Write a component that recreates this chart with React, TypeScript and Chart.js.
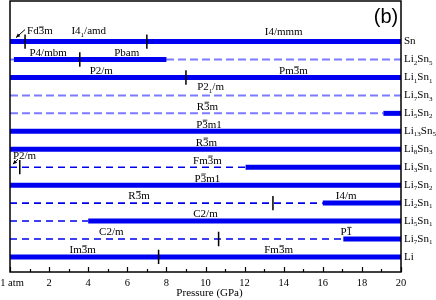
import React, { useEffect, useRef } from "react";
import { Chart, registerables } from "chart.js";
Chart.register(...registerables);

// ---- data ----
const compounds = [
  "Sn", "Li_2Sn_5", "Li_1Sn_1", "Li_7Sn_3", "Li_5Sn_2", "Li_{13}Sn_5", "Li_8Sn_3",
  "Li_3Sn_1", "Li_7Sn_2", "Li_2Sn_1", "Li_5Sn_1", "Li_7Sn_1", "Li",
];
// stable ranges (GPa): [row, from, to]
const stableRanges: [number, number, number][] = [
  [0, 0, 20], [1, 0.2, 8.0], [2, 0, 20], [4, 19.1, 20], [5, 0, 20], [6, 0, 20],
  [7, 12.05, 20], [8, 0, 20], [9, 16, 20], [10, 4, 20], [11, 17.05, 20], [12, 0, 20],
];
// metastable (light dashed) ranges
const metastableLight: [number, number, number][] = [[1, 0, 20], [3, 0, 20], [4, 0, 19.1]];
// metastable (dark dashed) ranges
const metastableDark: [number, number, number][] = [[7, 0, 12.05], [9, 0, 16], [10, 0, 4], [11, 0, 17.05]];
// phase transition pressures: [row, GPa]
const transitions: [number, number][] = [
  [0, 0.77], [0, 7.0], [1, 3.57], [2, 9.0], [7, 0.5], [9, 13.45], [11, 10.67], [12, 7.6],
];
// phase labels: row, pressure, text
const phaseRows = [0, 0, 0, 1, 1, 2, 2, 3, 4, 5, 6, 7, 7, 8, 9, 9, 10, 11, 11, 12, 12];
const phaseX = [0.87, 4.03, 14.0, 1.95, 5.97, 4.67, 14.5, 10.26, 10.1, 10.18, 10.05, 0.15, 10.1, 10.1, 6.6, 17.2, 10.0, 5.18, 17.2, 3.72, 13.74];
const phaseNames = [
  "Fd~3m", "I4_1/amd", "I4/mmm", "P4/mbm", "Pbam", "P2/m", "Pm~3m", "P2_1/m", "R~3m", "P~3m1",
  "R~3m", "P2/m", "Fm~3m", "P~3m1", "R~3m", "I4/m", "C2/m", "C2/m", "P~1", "Im~3m", "Fm~3m",
];
const phaseAlign = ["left", "c", "c", "c", "c", "c", "c", "c", "c", "c", "c", "left", "c", "c", "c", "c", "c", "c", "c", "c", "c"];
const phaseDy = [-10, -10, -9, -6, -6, -6, -6, -8, -6.5, -6.5, -6.5, -11.5, -6.5, -6.5, -7, -7, -7, -6.5, -7, -6.5, -6.5];
// arrows: [row, xFrom, dyFrom, xTo, dyTo]
const arrows: [number, number, number, number, number][] = [
  [0, 0.77, -0.67, 0.31, -0.22],
  [7, 0.41, -0.45, 0.15, -0.17],
];
const majorTicks = [0, 2, 4, 6, 8, 10, 12, 14, 16, 18, 20];
const majorTickLabels = ["1 atm", "2", "4", "6", "8", "10", "12", "14", "16", "18", "20"];
const minorTicks = [1, 3, 5, 7, 9, 11, 13, 15, 17, 19];

const SERIF = "'Liberation Serif', 'Times New Roman', serif";

type Seg = { t: string; sub: boolean; bar: boolean };
function parseRich(s: string): Seg[] {
  const segs: Seg[] = [];
  let i = 0;
  while (i < s.length) {
    const c = s[i];
    if (c === "_") {
      if (s[i + 1] === "{") {
        const j = s.indexOf("}", i);
        segs.push({ t: s.slice(i + 2, j), sub: true, bar: false });
        i = j + 1;
      } else {
        segs.push({ t: s[i + 1], sub: true, bar: false });
        i += 2;
      }
    } else if (c === "~") {
      segs.push({ t: s[i + 1], sub: false, bar: true });
      i += 2;
    } else {
      segs.push({ t: c, sub: false, bar: false });
      i += 1;
    }
  }
  return segs;
}

function drawRich(ctx: CanvasRenderingContext2D, s: string, x: number, y: number, align: string, fs: number) {
  const segs = parseRich(s);
  const fN = `${fs}px ${SERIF}`;
  const fS = `${Math.round(fs * 0.68)}px ${SERIF}`;
  const widths = segs.map((g) => {
    ctx.font = g.sub ? fS : fN;
    return ctx.measureText(g.t).width;
  });
  const total = widths.reduce((a, b) => a + b, 0);
  let cx = align === "left" ? x : x - total / 2;
  ctx.textBaseline = "middle";
  ctx.textAlign = "left";
  ctx.fillStyle = "#000";
  segs.forEach((g, k) => {
    ctx.font = g.sub ? fS : fN;
    ctx.fillText(g.t, cx, g.sub ? y + fs * 0.3 : y);
    if (g.bar) {
      ctx.strokeStyle = "#000";
      ctx.lineWidth = 0.8;
      ctx.beginPath();
      ctx.moveTo(cx + 0.5, y - fs * 0.42);
      ctx.lineTo(cx + widths[k] - 0.5, y - fs * 0.42);
      ctx.stroke();
    }
    cx += widths[k];
  });
}

const annotations = {
  id: "annotations",
  afterDatasetsDraw(chart: any) {
    const { ctx, chartArea: ca, scales } = chart;
    const xs = scales.x;
    const ys = scales.y;
    ctx.save();
    // frame
    ctx.strokeStyle = "#000";
    ctx.lineWidth = 1.5;
    ctx.strokeRect(ca.left, ca.top, ca.right - ca.left, ca.bottom - ca.top);
    // x ticks (inward)
    ctx.lineWidth = 1.2;
    majorTicks.forEach((v) => {
      const px = Math.round(xs.getPixelForValue(v)) + 0.5;
      ctx.beginPath();
      ctx.moveTo(px, ca.bottom);
      ctx.lineTo(px, ca.bottom - 5);
      ctx.stroke();
    });
    minorTicks.forEach((v) => {
      const px = Math.round(xs.getPixelForValue(v)) + 0.5;
      ctx.beginPath();
      ctx.moveTo(px, ca.bottom);
      ctx.lineTo(px, ca.bottom - 3);
      ctx.stroke();
    });
    // tick labels
    ctx.fillStyle = "#000";
    ctx.font = `10.5px ${SERIF}`;
    ctx.textAlign = "center";
    ctx.textBaseline = "middle";
    majorTicks.forEach((v, i) => {
      const off = i === 0 ? 2 : 0;
      ctx.fillText(majorTickLabels[i], xs.getPixelForValue(v) + off, ca.bottom + 11);
    });
    ctx.font = `11px ${SERIF}`;
    ctx.fillText("Pressure (GPa)", (ca.left + ca.right) / 2 + 4, ca.bottom + 21);
    // (b)
    ctx.font = `20px 'Liberation Sans', Arial, sans-serif`;
    ctx.fillText("(b)", 386, 17);
    // right labels
    compounds.forEach((c, i) => {
      drawRich(ctx, c, ca.right + 3, ys.getPixelForValue(i), "left", 11);
    });
    // phase labels
    phaseNames.forEach((n, i) => {
      drawRich(ctx, n, xs.getPixelForValue(phaseX[i]), ys.getPixelForValue(phaseRows[i]) + phaseDy[i], phaseAlign[i], 11);
    });
    // arrows
    ctx.strokeStyle = "#000";
    ctx.fillStyle = "#000";
    ctx.lineWidth = 1;
    arrows.forEach(([r, x1, d1, x2, d2]) => {
      const ax = xs.getPixelForValue(x1);
      const ay = ys.getPixelForValue(r + d1);
      const bx = xs.getPixelForValue(x2);
      const by = ys.getPixelForValue(r + d2);
      ctx.beginPath();
      ctx.moveTo(ax, ay);
      ctx.lineTo(bx, by);
      ctx.stroke();
      const ang = Math.atan2(by - ay, bx - ax);
      const L = 4.5;
      ctx.beginPath();
      ctx.moveTo(bx, by);
      ctx.lineTo(bx - L * Math.cos(ang - 0.45), by - L * Math.sin(ang - 0.45));
      ctx.lineTo(bx - L * Math.cos(ang + 0.45), by - L * Math.sin(ang + 0.45));
      ctx.closePath();
      ctx.fill();
    });
    ctx.restore();
  },
};

export default function App() {
  const ref = useRef<HTMLCanvasElement | null>(null);
  useEffect(() => {
    if (!ref.current) return;
    const seg = (r: number, a: number, b: number) => [{ x: a, y: r }, { x: b, y: r }];
    const datasets: any[] = [];
    // order: lower "order" drawn on top
    metastableLight.forEach(([r, a, b]) =>
      datasets.push({ data: seg(r, a, b), order: 4, borderColor: "#7b7bff", borderWidth: 2, borderDash: [8, 4], pointRadius: 0 })
    );
    metastableDark.forEach(([r, a, b]) =>
      datasets.push({ data: seg(r, a, b), order: 3, borderColor: "#0000ee", borderWidth: 1.6, borderDash: [7, 5], pointRadius: 0 })
    );
    stableRanges.forEach(([r, a, b]) =>
      datasets.push({ data: seg(r, a, b), order: 2, borderColor: "#0000f0", borderWidth: 5, pointRadius: 0 })
    );
    transitions.forEach(([r, p]) =>
      datasets.push({ data: [{ x: p, y: r - 0.4 }, { x: p, y: r + 0.4 }], order: 1, borderColor: "#000", borderWidth: 1.5, pointRadius: 0 })
    );
    const chart = new Chart(ref.current, {
      type: "line",
      data: { datasets },
      options: {
        animation: false,
        responsive: false,
        events: [],
        layout: { padding: { left: 10, right: 35, top: 1, bottom: 28 } },
        plugins: { legend: { display: false }, tooltip: { enabled: false } },
        elements: { line: { borderCapStyle: "butt", tension: 0 } },
        scales: {
          x: { type: "linear", min: 0, max: 20, display: false },
          y: { type: "linear", min: -2.26, max: 12.84, reverse: true, display: false },
        },
      },
      plugins: [annotations],
    } as any);
    return () => chart.destroy();
  }, []);
  return (
    <div style={{ position: "absolute", left: 0, top: 0, width: 436, height: 300, background: "#fff" }}>
      <canvas ref={ref} width={436} height={300} />
    </div>
  );
}
